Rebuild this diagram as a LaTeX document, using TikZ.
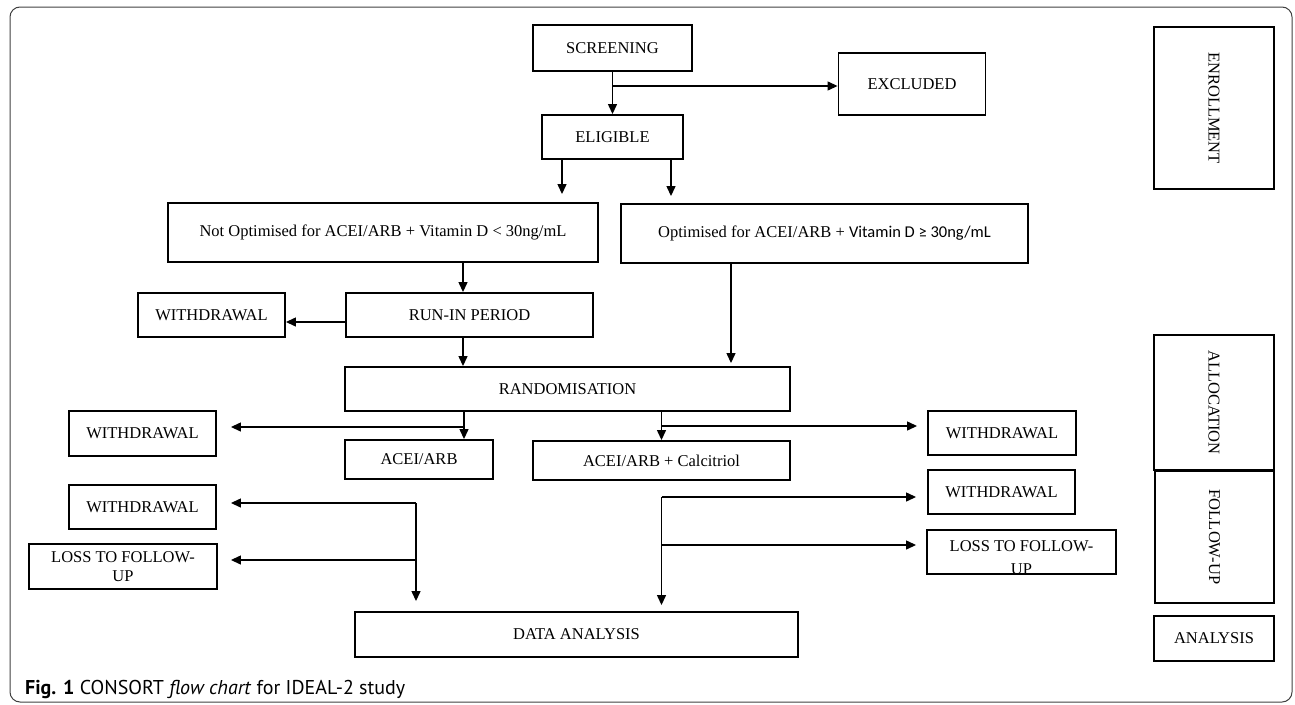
\documentclass[tikz,border=0pt]{standalone}
\usepackage{fontspec}
\setmainfont{Liberation Serif}
\newfontfamily\calibrifont{Carlito}
\newfontfamily\captionfont{PT Sans}
\usetikzlibrary{arrows.meta}

\tikzset{
  box/.style={draw, line width=1.9pt, inner sep=2pt, align=center,
    font=\fontsize{16.5}{19}\selectfont},
  arr/.style={->, line width=1.3pt},
  >={Triangle[length=10pt,width=9pt]}
}

\begin{document}
\begin{tikzpicture}[x=1pt,y=-1pt]
\useasboundingbox (0,0) rectangle (1295,704);
\draw[rounded corners=10pt, line width=1pt, black!75] (10,7) rectangle (1292,702);

\node[box, minimum width=159pt, minimum height=46pt] (screen) at (612.5,48) {SCREENING};
\node[box, minimum width=147pt, minimum height=62pt] (excl) at (912,84) {EXCLUDED};
\node[box, minimum width=141pt, minimum height=44pt] (elig) at (612.5,137) {ELIGIBLE};
\node[box, minimum width=430pt, minimum height=59pt] (notopt) at (383,232.5) {Not Optimised for ACEI/ARB + Vitamin D < 30ng/mL};
\node[box, minimum width=407pt, minimum height=59pt] (opt) at (824.5,233.5) {Optimised for ACEI/ARB + {\calibrifont Vitamin D ≥ 30ng/mL}};
\node[box, minimum width=147pt, minimum height=44pt] (wd1) at (211.5,315) {WITHDRAWAL};
\node[box, minimum width=247pt, minimum height=44pt] (runin) at (469.5,315) {RUN-IN PERIOD};
\node[box, minimum width=445pt, minimum height=44pt] (rand) at (567.5,389) {RANDOMISATION};
\node[box, minimum width=147pt, minimum height=45pt] (wd2) at (142.5,433.5) {WITHDRAWAL};
\node[box, minimum width=148pt, minimum height=39pt] (acei) at (419,459.5) {ACEI/ARB};
\node[box, minimum width=257pt, minimum height=39pt] (calc) at (661.5,460.5) {ACEI/ARB + Calcitriol};
\node[box, minimum width=148pt, minimum height=44pt] (wd3) at (1002,433) {WITHDRAWAL};
\node[box, minimum width=147pt, minimum height=44pt] (wd4) at (142.5,507) {WITHDRAWAL};
\node[box, minimum width=188pt, minimum height=45pt] (loss1) at (123,566.5) {LOSS TO FOLLOW-\\UP};
\node[box, minimum width=147pt, minimum height=44pt] (wd5) at (1001.5,492) {WITHDRAWAL};
\node[box, minimum width=189pt, minimum height=44pt] (loss2) at (1021.5,552) {};
\begin{scope}
\clip ([shift={(1.9pt,1.9pt)}]loss2.south west) rectangle ([shift={(-1.9pt,-1.9pt)}]loss2.north east);
\node[align=center, inner sep=2pt, font=\fontsize{16.5}{23}\selectfont, anchor=north] (loss2txt) at ([yshift=-9.5pt]loss2.north) {LOSS TO FOLLOW-\\UP};
\end{scope}
\node[box, minimum width=443pt, minimum height=45pt] (data) at (576.5,634.5) {DATA ANALYSIS};

\node[box, minimum width=162pt, minimum height=120pt, rotate=-90] (enrol) at (1214,108) {ENROLLMENT};
\node[box, minimum width=135pt, minimum height=120pt, rotate=-90] (alloc) at (1214,402.5) {ALLOCATION};
\node[box, minimum width=132pt, minimum height=119pt, rotate=-90] (follow) at (1214.5,537) {FOLLOW-UP};
\node[box, minimum width=120pt, minimum height=45pt] (analys) at (1214,638.5) {ANALYSIS};

\draw[arr] (screen.south) -- (elig.north);
\draw[arr] ([yshift=-2pt]screen.south |- excl.west) -- ([yshift=-2pt]excl.west);
\draw[arr, shorten >=8pt] ([xshift=-50.5pt]elig.south) -- ([xshift=-50.5pt]elig.south |- notopt.north);
\draw[arr, shorten >=7pt] ([xshift=58.5pt]elig.south) -- ([xshift=58.5pt]elig.south |- opt.north);
\draw[arr] ([xshift=-6.5pt]runin.north |- notopt.south) -- ([xshift=-6.5pt]runin.north);
\draw[arr] ([yshift=-7pt]runin.west) -- ([yshift=-7pt]runin.west -| wd1.east);
\draw[arr] ([xshift=-6.5pt]runin.south) -- ([xshift=-6.5pt]runin.south |- rand.north);
\draw[arr, shorten >=3pt] ([xshift=-93.5pt]opt.south) -- ([xshift=-93.5pt]opt.south |- rand.north);
\draw[arr] ([xshift=45pt]acei.north |- rand.south) -- ([xshift=45pt]acei.north);
\coordinate (lsplit) at (464,427);
\draw[arr, shorten >=14pt] (lsplit) -- (lsplit -| wd2.east);
\draw[arr] (calc.north |- rand.south) -- (calc.north);
\coordinate (rsplit) at (661.5,426);
\draw[arr, shorten >=10pt] (rsplit) -- (rsplit -| wd3.west);

\coordinate (lfu) at (416,503);
\coordinate (lfl) at (416,560);
\draw[arr, shorten >=10pt] (lfu) -- (lfu |- data.north);
\draw[arr, shorten >=14pt] (lfu) -- (lfu -| wd4.east);
\draw[arr, shorten >=13pt] (lfl) -- (lfl -| loss1.east);
\coordinate (rfu) at (661.5,497);
\coordinate (rfl) at (661.5,545);
\draw[arr, shorten >=6pt] (rfu) -- (rfu |- data.north);
\draw[arr, shorten >=11pt] (rfu) -- (rfu -| wd5.west);
\draw[arr, shorten >=10pt] (rfl) -- (rfl -| loss2.west);

\node[anchor=base west, inner sep=0pt, font=\captionfont\fontsize{20}{24}\selectfont] (cap) at (25,694) {\textbf{Fig. 1} CONSORT \textit{flow chart} for IDEAL-2 study};
\end{tikzpicture}
\end{document}
